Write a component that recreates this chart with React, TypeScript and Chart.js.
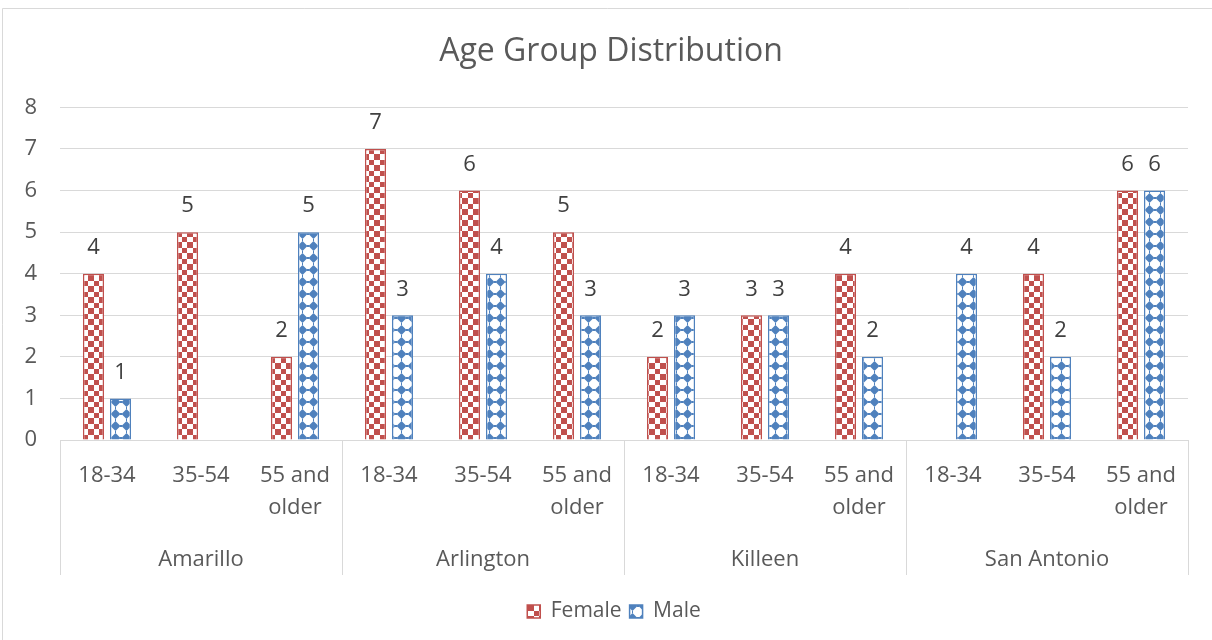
import { useEffect, useRef } from 'react';
import { Chart, registerables } from 'chart.js';

Chart.register(...registerables);

const cities = ['Amarillo', 'Arlington', 'Killeen', 'San Antonio'];
const ageTickLines = [['18-34'], ['35-54'], ['55 and', 'older']];
const femaleValues = [4, 5, 2, 7, 6, 5, 2, 3, 4, null, 4, 6];
const maleValues = [1, null, 5, 3, 4, 3, 3, 3, 2, 4, 2, 6];
const yMin = 0;
const yMax = 8;
const yStep = 1;

const FONT = '"Open Sans", "Noto Sans", sans-serif';
const TEXT = '#595959';
const GRID = '#D9D9D9';
const RED = '#C0504D';
const BLUE = '#4F81BD';

function makeFemalePattern(): CanvasPattern | string {
  const c = document.createElement('canvas');
  c.width = 11; c.height = 11;
  const g = c.getContext('2d');
  if (!g) return RED;
  g.fillStyle = '#FFFFFF';
  g.fillRect(0, 0, 11, 11);
  g.fillStyle = RED;
  g.fillRect(0, 0, 6, 6);
  g.fillRect(6, 6, 5, 5);
  return g.createPattern(c, 'repeat') || RED;
}

function makeMalePattern(): CanvasPattern | string {
  const c = document.createElement('canvas');
  c.width = 11; c.height = 12;
  const g = c.getContext('2d');
  if (!g) return BLUE;
  g.fillStyle = '#FFFFFF';
  g.fillRect(0, 0, 11, 12);
  g.fillStyle = BLUE;
  g.beginPath();
  g.moveTo(5.5, 1);
  g.lineTo(10.5, 6);
  g.lineTo(5.5, 11);
  g.lineTo(0.5, 6);
  g.closePath();
  g.fill();
  g.fillRect(5, 0, 1, 1);
  g.fillRect(5, 11, 1, 1);
  g.fillRect(0, 5, 1, 2);
  g.fillRect(10, 5, 1, 2);
  return g.createPattern(c, 'repeat') || BLUE;
}

const decorPlugin = {
  id: 'decor',
  afterLayout(chart: any) {
    const lg = chart.legend;
    if (lg) {
      lg.left += 20;
      lg.right += 20;
      if (typeof lg.adjustHitBoxes === 'function') lg.adjustHitBoxes();
    }
    const tb = chart.titleBlock;
    if (tb) {
      tb.left += 17;
      tb.right += 17;
    }
  },
  beforeDraw(chart: any) {
    const ctx = chart.ctx;
    ctx.save();
    ctx.fillStyle = '#FFFFFF';
    ctx.fillRect(0, 0, chart.width, chart.height);
    ctx.strokeStyle = GRID;
    ctx.lineWidth = 1;
    ctx.beginPath();
    ctx.moveTo(2.5, chart.height);
    ctx.lineTo(2.5, 8.5);
    ctx.lineTo(chart.width, 8.5);
    ctx.stroke();
    ctx.restore();
  },
  afterDraw(chart: any) {
    const ctx = chart.ctx;
    const xs = chart.scales.x;
    const area = chart.chartArea;
    ctx.save();
    // group dividers
    ctx.strokeStyle = GRID;
    ctx.lineWidth = 1;
    const bottom = area.bottom + 135;
    for (let gi = 0; gi <= cities.length; gi++) {
      const px = Math.round(xs.getPixelForValue(gi * 3 - 0.5)) + 0.5;
      ctx.beginPath();
      ctx.moveTo(px, area.bottom);
      ctx.lineTo(px, bottom);
      ctx.stroke();
    }
    // city labels
    ctx.fillStyle = TEXT;
    ctx.font = `22px ${FONT}`;
    ctx.textAlign = 'center';
    ctx.textBaseline = 'middle';
    cities.forEach((city, gi) => {
      const cx = xs.getPixelForValue(gi * 3 + 1);
      ctx.fillText(city, cx, area.bottom + 120);
    });
    // data labels
    ctx.font = `22px ${FONT}`;
    ctx.fillStyle = '#404040';
    chart.data.datasets.forEach((ds: any, di: number) => {
      const meta = chart.getDatasetMeta(di);
      meta.data.forEach((el: any, i: number) => {
        const v = ds.data[i];
        if (v === null || v === undefined) return;
        ctx.fillText(String(v), el.x, el.y - 26);
      });
    });
    ctx.restore();
  },
};

export default function App() {
  const ref = useRef<HTMLCanvasElement | null>(null);
  useEffect(() => {
    document.body.style.margin = '0';
    if (!ref.current) return;
    const femalePattern = makeFemalePattern();
    const malePattern = makeMalePattern();
    const labels = [] as string[][];
    cities.forEach(() => ageTickLines.forEach((l) => labels.push(l)));
    const chart = new Chart(ref.current, {
      type: 'bar',
      data: {
        labels,
        datasets: [
          {
            label: 'Female',
            data: femaleValues,
            backgroundColor: femalePattern as any,
            borderColor: RED,
            borderWidth: 1.5,
            categoryPercentage: 0.575,
            barPercentage: 0.78,
          },
          {
            label: 'Male',
            data: maleValues,
            backgroundColor: malePattern as any,
            borderColor: BLUE,
            borderWidth: 1.5,
            categoryPercentage: 0.575,
            barPercentage: 0.78,
          },
        ],
      },
      options: {
        responsive: false,
        animation: false,
        layout: { padding: { top: 24, left: 0, right: 24, bottom: 8 } },
        plugins: {
          title: {
            display: true,
            text: 'Age Group Distribution',
            color: TEXT,
            font: { family: FONT, size: 32, weight: 'normal' },
            padding: { top: 9, bottom: 36 },
          },
          legend: {
            position: 'bottom',
            labels: {
              color: TEXT,
              font: { family: FONT, size: 21 },
              boxWidth: 13,
              boxHeight: 13,
              padding: 8,
            },
          },
          tooltip: { enabled: false },
        },
        scales: {
          x: {
            grid: { display: false, drawTicks: false },
            border: { display: false },
            ticks: {
              color: TEXT,
              font: { family: FONT, size: 22, lineHeight: 1.45 },
              padding: 20,
              maxRotation: 0,
              autoSkip: false,
            },
            afterFit(scale: any) { scale.height = 153; },
          },
          y: {
            min: yMin,
            max: yMax,
            grid: { color: GRID, drawTicks: false },
            border: { display: false },
            ticks: {
              stepSize: yStep,
              color: TEXT,
              font: { family: FONT, size: 22 },
              padding: 23,
            },
            afterFit(scale: any) { scale.width = 60; },
          },
        },
      },
      plugins: [decorPlugin],
    });
    return () => chart.destroy();
  }, []);
  return (
    <div style={{ width: 1212, height: 640 }}>
      <canvas ref={ref} width={1212} height={640} style={{ display: 'block' }} />
    </div>
  );
}
